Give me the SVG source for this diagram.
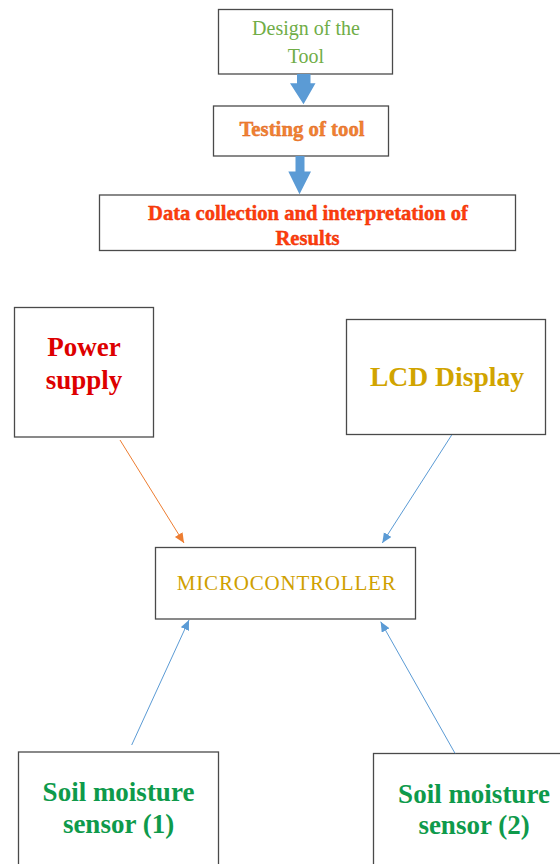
<svg xmlns="http://www.w3.org/2000/svg" width="560" height="864" viewBox="0 0 560 864">
<defs>
<style>
.box{fill:#fff;stroke:#4a4a4a;stroke-width:1.3}
.t{font-family:"Liberation Serif","Times New Roman",serif;text-anchor:middle}
.b{font-weight:bold}
.blk{fill:#5B9BD5}
.ln{fill:none;stroke-width:1}
</style>
<marker id="hb" markerUnits="userSpaceOnUse" markerWidth="11" markerHeight="10" refX="10" refY="4.5" orient="auto">
<path d="M0,0 L10,4.5 L0,9 Z" fill="#5B9BD5"/>
</marker>
<marker id="ho" markerUnits="userSpaceOnUse" markerWidth="11" markerHeight="10" refX="10" refY="4.5" orient="auto">
<path d="M0,0 L10,4.5 L0,9 Z" fill="#ED7D31"/>
</marker>
</defs>
<rect width="560" height="864" fill="#fff"/>

<g id="design">
<rect class="box" x="218.5" y="9.5" width="174" height="64.5"/>
<text class="t" x="306" y="35" font-size="20" fill="#70AD47">Design of the</text>
<text class="t" x="306" y="63" font-size="20" fill="#70AD47">Tool</text>
</g>

<g id="testing">
<rect class="box" x="213.5" y="106" width="175" height="50"/>
<text class="t b" x="302" y="136" font-size="20.8" fill="#F08232" stroke="#E0641E" stroke-width="0.4">Testing of tool</text>
</g>

<g id="data">
<rect class="box" x="99.5" y="195" width="416" height="55.5"/>
<text class="t b" x="308" y="220" font-size="20.6" fill="#FF3D0D" stroke="#E62E00" stroke-width="0.4">Data collection and interpretation of</text>
<text class="t b" x="307.5" y="244.5" font-size="20.6" fill="#FF3D0D" stroke="#E62E00" stroke-width="0.4">Results</text>
</g>

<g id="power">
<rect class="box" x="14.5" y="307.5" width="139" height="129.5"/>
<text class="t b" x="84" y="356" font-size="27" fill="#DD0000">Power</text>
<text class="t b" x="84" y="388.5" font-size="27" fill="#DD0000">supply</text>
</g>

<g id="lcd">
<rect class="box" x="346.5" y="319.5" width="199" height="115"/>
<text class="t b" x="447" y="385.5" font-size="27.6" fill="#D1A400">LCD Display</text>
</g>

<g id="mcu">
<rect class="box" x="155.5" y="547.5" width="260" height="71.5"/>
<text class="t" x="286.7" y="590" font-size="21" letter-spacing="0.8" fill="#CFA000">MICROCONTROLLER</text>
</g>

<g id="sensor1">
<rect class="box" x="18.5" y="752" width="200" height="130"/>
<text class="t b" x="118.5" y="801" font-size="27" fill="#0E9A4B">Soil moisture</text>
<text class="t b" x="118.5" y="833" font-size="27" fill="#0E9A4B">sensor (1)</text>
</g>

<g id="sensor2">
<rect class="box" x="373.5" y="753.5" width="200" height="130"/>
<text class="t b" x="474" y="803" font-size="27" fill="#0E9A4B">Soil moisture</text>
<text class="t b" x="474" y="834" font-size="27" fill="#0E9A4B">sensor (2)</text>
</g>

<g id="connectors">
<path class="blk" d="M297,74 H310.5 V83.3 H315.5 L303.5,104.3 L290,83.3 H297 Z"/>
<path class="blk" d="M295.5,156 H304.5 V171.5 H311 L299.5,194.3 L288.3,171.5 H295.5 Z"/>
<line class="ln" x1="120" y1="440" x2="184" y2="543" stroke="#ED7D31" marker-end="url(#ho)"/>
<line class="ln" x1="451.7" y1="435" x2="382.3" y2="543" stroke="#5B9BD5" marker-end="url(#hb)"/>
<line class="ln" x1="131.7" y1="745" x2="189" y2="620" stroke="#5B9BD5" marker-end="url(#hb)"/>
<line class="ln" x1="455" y1="753.3" x2="380.7" y2="621.7" stroke="#5B9BD5" marker-end="url(#hb)"/>
</g>
</svg>
